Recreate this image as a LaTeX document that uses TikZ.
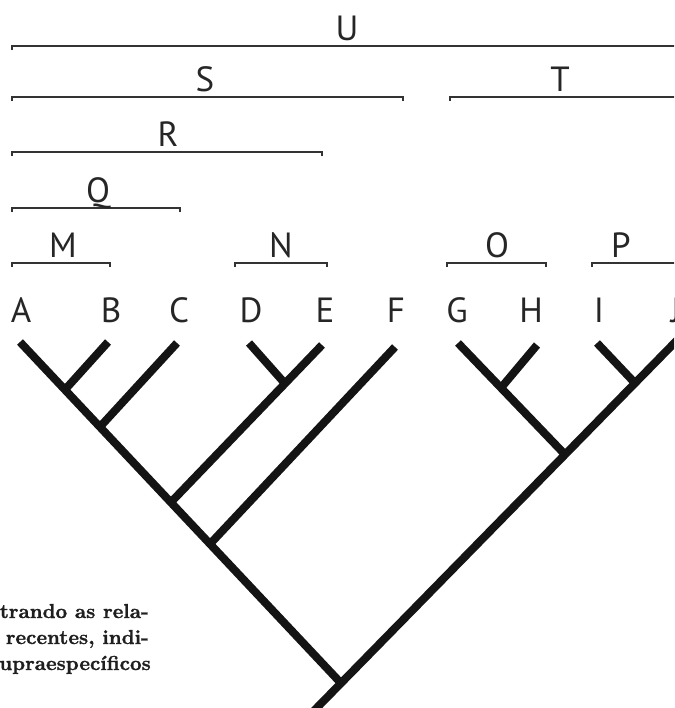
\documentclass[tikz,border=0pt]{standalone}
\usepackage{fontspec}
\newfontfamily\labelfont{PT Sans}
\newfontfamily\capfont{lmroman10-bold.otf}[FakeBold=1.2]
\usetikzlibrary{calc}
\begin{document}
\begin{tikzpicture}[x=1pt,y=-1pt,
  branch/.style={line width=8pt, draw=black!92},
  bracket/.style={line width=2.6pt, draw=black!80},
  taxon/.style={font=\labelfont\fontsize{35}{35}\selectfont, text=black!85, anchor=base, inner sep=0pt},
  caption/.style={font=\capfont\fontsize{20.2}{25}\selectfont, text=black!88, anchor=base east, inner sep=0pt}]
\useasboundingbox (0,0) rectangle (674,708);
\clip (0,0) rectangle (674,708);

% group brackets with their names
\draw[bracket] (12,50) |- (700,46);
\node[taxon] (U) at (347,41) {U};
\draw[bracket] (12,101) |- (403,97) -- (403,101);
\node[taxon] (S) at (205,92) {S};
\draw[bracket] (450,101) |- (700,97);
\node[taxon] (T) at (560,92) {T};
\draw[bracket] (12,156) |- (322,152) -- (322,156);
\node[taxon] (R) at (168,147) {R};
\draw[bracket] (12,212) |- (180,208) -- (180,212);
\node[taxon] (Q) at (98,203) {Q};
\draw[bracket] (12,267) |- (110,263) -- (110,267);
\node[taxon] (M) at (63,258) {M};
\draw[bracket] (235,267) |- (327,263) -- (327,267);
\node[taxon] (N) at (281,258) {N};
\draw[bracket] (447,267) |- (546,263) -- (546,267);
\node[taxon] (O) at (497,258) {O};
\draw[bracket] (592,267) |- (700,263);
\node[taxon] (P) at (621,258) {P};

% terminal taxa
\node[taxon] (A) at (21,322) {A};
\node[taxon] (B) at (111,322) {B};
\node[taxon] (C) at (179,322) {C};
\node[taxon] (D) at (251,322) {D};
\node[taxon] (E) at (325,322) {E};
\node[taxon] (F) at (396,322) {F};
\node[taxon] (G) at (457,322) {G};
\node[taxon] (H) at (531,322) {H};
\node[taxon] (I) at (599,322) {I};
\node[taxon] (J) at (676,322) {J};

% branch tips
\coordinate (tA) at (20,342);
\coordinate (tB) at (108,342);
\coordinate (tC) at (177,343);
\coordinate (tD) at (249,343);
\coordinate (tE) at (322,345);
\coordinate (tF) at (395,347);
\coordinate (tG) at (458,343);
\coordinate (tH) at (537,345);
\coordinate (tI) at (597,343);
\coordinate (tJ) at (690,327);
\coordinate (base) at (300,725);

% internal nodes
\coordinate (root) at ($(tJ)!0.8949!(base)$);
\coordinate (jAB) at ($(tA)!0.14!(root)$);
\coordinate (jABC) at ($(tA)!0.249!(root)$);
\coordinate (jDE) at ($(tA)!0.47!(root)$);
\coordinate (jF) at ($(tA)!0.592!(root)$);
\coordinate (nDE) at ($(tE)!0.245!(jDE)$);
\coordinate (jIJ) at ($(tJ)!0.141!(base)$);
\coordinate (jGJ) at ($(tJ)!0.3205!(base)$);
\coordinate (nGH) at ($(tG)!0.402!(jGJ)$);

% cladogram
\draw[branch] (tA) -- (root);
\draw[branch] (tJ) -- (base);
\draw[branch] (tB) -- (jAB);
\draw[branch] (tC) -- (jABC);
\draw[branch] (tE) -- (jDE);
\draw[branch] (tD) -- (nDE);
\draw[branch] (tF) -- (jF);
\draw[branch] (tG) -- (jGJ);
\draw[branch] (tH) -- (nGH);
\draw[branch] (tI) -- (jIJ);

% caption fragment
\node[caption] (cap1) at (149,618) {trando as rela-};
\node[caption] (cap2) at (149,644) {recentes, indi-};
\node[caption] (cap3) at (151,670) {upraespecíficos};
\end{tikzpicture}
\end{document}
